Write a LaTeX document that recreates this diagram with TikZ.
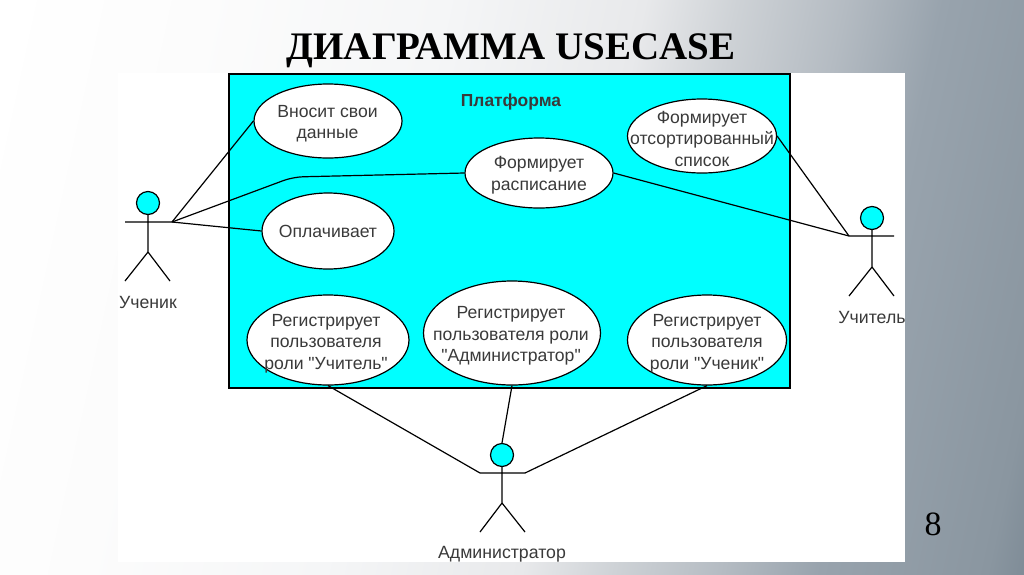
\documentclass[tikz,border=0pt]{standalone}
\usepackage{fontspec}
\newfontfamily\uifont{Liberation Sans}
\newfontfamily\titlefont{Liberation Serif}
\usetikzlibrary{shapes.geometric}
\definecolor{txt}{HTML}{3A3A3A}
\definecolor{aqua}{HTML}{00FFFF}
\definecolor{s0}{HTML}{FCFCFC}
\definecolor{s1}{HTML}{F5F6F7}
\definecolor{s2}{HTML}{E8E9EB}
\definecolor{s3}{HTML}{CED2D6}
\definecolor{s4}{HTML}{B4BBC2}
\definecolor{s5}{HTML}{98A3AD}
\definecolor{s6}{HTML}{8A96A0}
\definecolor{s7}{HTML}{808D98}
\pgfdeclarehorizontalshading{slidebgb}{100bp}{
  color(0bp)=(white);
  color(20.3bp)=(white);
  color(30.8bp)=(s0);
  color(43.3bp)=(s1);
  color(53.7bp)=(s2);
  color(58.5bp)=(s3);
  color(64.2bp)=(s4);
  color(69.2bp)=(s5);
  color(77.9bp)=(s6);
  color(79.7bp)=(s7);
  color(100bp)=(s7)}
\tikzset{
  uc/.style={ellipse,draw=black,fill=white,line width=1.2pt,inner sep=0pt},
  uct/.style={align=center,text=txt,inner sep=0pt,font=\uifont\fontsize{17.6}{21.5}\selectfont},
  lnk/.style={draw=black,line width=1.2pt},
  head/.style={circle,draw=black,fill=aqua,line width=1.2pt,inner sep=0pt,minimum size=23pt},
  lbl/.style={text=txt,inner sep=0pt,font=\uifont\fontsize{17.7}{21}\selectfont}
}
\begin{document}
\begin{tikzpicture}[x=1pt,y=-1pt]
\useasboundingbox (0,0) rectangle (1024,574);
\shade[shading=slidebgb,shading angle=-12.2] (0,0) rectangle (1024,574);
\fill[white] (118,73) rectangle (905,562);
\fill[aqua] (229,74) rectangle (790,388);
\draw[line width=1.5pt] (229,74) rectangle (790,388);
\node[font=\titlefont\bfseries\fontsize{39}{42}\selectfont,text=black,inner sep=0pt] (title) at (511,50.5) {ДИАГРАММА USECASE};
\node[font=\titlefont\fontsize{34}{36}\selectfont,text=black,inner sep=0pt] (num) at (933,524) {8};
\node[font=\uifont\bfseries\fontsize{17.4}{20}\selectfont,text=txt,inner sep=0pt] (plat) at (511,102) {Платформа};
% actors
\node[head] (h1) at (148,203) {};
\node[head] (h2) at (872,218) {};
\node[head] (h3) at (502,455) {};
\coordinate (a1l) at (125,222); \coordinate (a1r) at (172,222); \coordinate (b1) at (148,252); \coordinate (f1l) at (125,281); \coordinate (f1r) at (170,281);
\coordinate (a2l) at (849,236); \coordinate (a2r) at (894,236); \coordinate (b2) at (872,267); \coordinate (f2l) at (849,296); \coordinate (f2r) at (894,296);
\coordinate (a3l) at (480,473); \coordinate (a3r) at (525,473); \coordinate (b3) at (502,503); \coordinate (f3l) at (480,532); \coordinate (f3r) at (525,532);
\draw[lnk] (h1) -- (b1) (a1l) -- (a1r) (f1l) -- (b1) -- (f1r);
\draw[lnk] (h2) -- (b2) (a2l) -- (a2r) (f2l) -- (b2) -- (f2r);
\draw[lnk] (h3) -- (b3) (a3l) -- (a3r) (f3l) -- (b3) -- (f3r);
\node[lbl] (l1) at (148,302) {Ученик};
\node[lbl] (l2) at (872,317) {Учитель};
\node[lbl] (l3) at (502,554) {Администратор};
% use cases
\node[uc,minimum width=148pt,minimum height=74pt] (u1) at (328,121) {};
\node[uc,minimum width=148pt,minimum height=70pt] (u2) at (539,173) {};
\node[uc,minimum width=132pt,minimum height=76pt] (u3) at (328,231) {};
\node[uc,minimum width=149pt,minimum height=74pt] (u4) at (702,136) {};
\node[uc,minimum width=162pt,minimum height=90pt] (u5) at (328,340) {};
\node[uc,minimum width=177pt,minimum height=104pt] (u6) at (512,333) {};
\node[uc,minimum width=159pt,minimum height=90pt] (u7) at (707,340) {};
\node[uct] (t1) at (327.5,123.5) {Вносит свои\\данные};
\node[uct] (t2) at (539,175) {Формирует\\расписание};
\node[uct] (t3) at (328,231) {Оплачивает};
\node[uct] (t4) at (702,138.5) {Формирует\\отсортированный\\список};
\node[uct] (t5) at (326,343.5) {Регистрирует\\пользователя\\роли "Учитель"};
\node[uct] (t6) at (511,336) {Регистрирует\\пользователя роли\\"Администратор"};
\node[uct] (t7) at (707,343.5) {Регистрирует\\пользователя\\роли "Ученик"};
% connectors
\coordinate (bend) at (293,177);
\draw[lnk] (a1r) -- (u1.west);
\draw[lnk,rounded corners=10pt] (a1r) -- (bend) -- (u2.west);
\draw[lnk] (a1r) -- (u3.west);
\draw[lnk] (u2.east) -- (a2l);
\draw[lnk] (u4.east) -- (a2l);
\draw[lnk] (u5.south) -- (a3l);
\draw[lnk] (u6.south) -- (h3.north);
\draw[lnk] (u7.south) -- (a3r);
\end{tikzpicture}
\end{document}
